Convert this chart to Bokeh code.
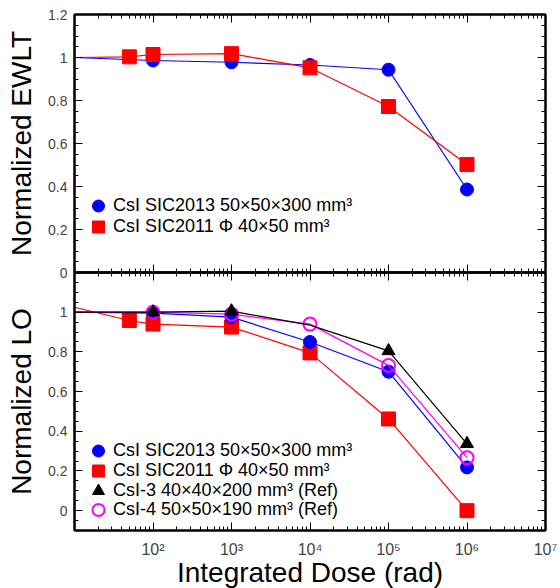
from bokeh.plotting import figure
from bokeh.layouts import column
from bokeh.models import (Range1d, FixedTicker, LinearAxis, LogAxis,
                          CustomJSTickFormatter, Legend, LegendItem, ColumnDataSource)
from bokeh.embed import file_html
from bokeh.resources import INLINE

# ---------------- data ----------------
# first entry of each series is the un-irradiated reference at the left edge (no marker)
ewlt_2013_dose = [10, 1e2, 1e3, 1e4, 1e5, 1e6]
ewlt_2013 = [1.0, 0.986, 0.978, 0.965, 0.943, 0.386]
ewlt_2013_mark = [False, True, True, True, True, True]

ewlt_2011_dose = [10, 50, 1e2, 1e3, 1e4, 1e5, 1e6]
ewlt_2011 = [1.0, 1.003, 1.014, 1.018, 0.952, 0.772, 0.502]
ewlt_2011_mark = [False, True, True, True, True, True, True]

lo_2013_dose = [10, 1e2, 1e3, 1e4, 1e5, 1e6]
lo_2013 = [1.0, 0.995, 0.975, 0.85, 0.70, 0.218]
lo_2013_mark = [False, True, True, True, True, True]

lo_2011_dose = [10, 50, 1e2, 1e3, 1e4, 1e5, 1e6]
lo_2011 = [1.025, 0.958, 0.94, 0.925, 0.795, 0.462, 0.0]
lo_2011_mark = [False, True, True, True, True, True, True]

lo_csi3_dose = [10, 1e2, 1e3, 1e4, 1e5, 1e6]
lo_csi3 = [1.0, 1.0, 1.005, 0.935, 0.805, 0.337]
lo_csi3_mark = [False, True, True, False, True, True]

lo_csi4_dose = [10, 1e2, 1e3, 1e4, 1e5, 1e6]
lo_csi4 = [1.0, 1.0, 0.99, 0.94, 0.732, 0.267]
lo_csi4_mark = [False, True, True, True, True, True]

label_2013 = "CsI SIC2013 50\u00d750\u00d7300 mm\u00b3"
label_2011 = "CsI SIC2011 \u03a6 40\u00d750 mm\u00b3"
label_csi3 = "CsI-3 40\u00d740\u00d7200 mm\u00b3 (Ref)"
label_csi4 = "CsI-4 50\u00d750\u00d7190 mm\u00b3 (Ref)"

x_label = "Integrated Dose (rad)"
y_label_top = "Normalized EWLT"
y_label_bottom = "Normalized LO"

x_major = [1e2, 1e3, 1e4, 1e5, 1e6, 1e7]
x_minor = [k * 10 ** n for n in range(1, 7) for k in range(2, 10)]
y_major_top = [0, 0.2, 0.4, 0.6, 0.8, 1.0, 1.2]
y_minor_top = [i * 0.05 for i in range(0, 25)]
y_major_bottom = [0, 0.2, 0.4, 0.6, 0.8, 1.0]
y_minor_bottom = [i * 0.05 for i in range(-2, 25)]

FONT = "Liberation Sans"
BLUE = "#0000ff"
RED = "#ff0000"
BLACK = "#000000"
MAGENTA = "#ff00ff"

x_fmt = CustomJSTickFormatter(code="""
const s = {1:'\u00b9', 2:'\u00b2', 3:'\u00b3', 4:'\u2074', 5:'\u2075', 6:'\u2076', 7:'\u2077'};
return '10' + s[Math.round(Math.log10(tick))];
""")
y_fmt = CustomJSTickFormatter(code="return String(Math.round(tick * 10) / 10);")


def style_axis(ax, show_labels, font_size):
    ax.axis_line_color = "black"
    ax.axis_line_width = 2
    ax.major_tick_in = 8
    ax.major_tick_out = 0
    ax.minor_tick_in = 4
    ax.minor_tick_out = 0
    ax.major_tick_line_color = "black"
    ax.minor_tick_line_color = "black"
    ax.major_label_text_font = FONT
    ax.major_label_text_color = "#444444"
    ax.axis_label_text_font = FONT
    ax.axis_label_text_font_style = "normal"
    ax.axis_label_text_color = "black"
    ax.axis_label_text_font_size = "28px"
    if show_labels:
        ax.major_label_text_font_size = font_size
    else:
        ax.major_label_text_font_size = "1px"
        ax.major_label_text_alpha = 0
        ax.major_label_standoff = 0


def make_fig(ymin, ymax, ymajor, yminor, ylabel, top_b, bottom_b, show_x, **kw):
    p = figure(x_axis_type="log", x_range=Range1d(10, 1e7),
               y_range=Range1d(ymin, ymax), frame_width=471, frame_height=258,
               min_border_left=74, min_border_right=15,
               min_border_top=top_b, min_border_bottom=bottom_b,
               output_backend="svg", toolbar_location=None, **kw)
    p.grid.visible = False
    p.outline_line_color = "black"
    p.outline_line_width = 2

    xt = FixedTicker(ticks=x_major, minor_ticks=x_minor)
    yt = FixedTicker(ticks=ymajor, minor_ticks=yminor)

    xa = p.xaxis[0]
    xa.ticker = xt
    xa.formatter = x_fmt
    style_axis(xa, show_x, "16px")
    if show_x:
        xa.axis_label = x_label
        xa.major_label_standoff = 10
        xa.axis_label_standoff = -4

    ya = p.yaxis[0]
    ya.ticker = yt
    ya.formatter = y_fmt
    style_axis(ya, True, "14px")
    ya.axis_label = ylabel
    ya.major_label_standoff = 7
    ya.axis_label_standoff = 8

    ra = LinearAxis(ticker=yt)
    style_axis(ra, False, "1px")
    p.add_layout(ra, "right")
    ta = LogAxis(ticker=xt)
    style_axis(ta, False, "1px")
    p.add_layout(ta, "above")
    return p


def add_series(p, dose, vals, marks, color, marker, size, fill=True, lw=1.2):
    p.line(dose, vals, line_color=color, line_width=lw)
    src = ColumnDataSource(dict(x=[d for d, m in zip(dose, marks) if m],
                                y=[v for v, m in zip(vals, marks) if m]))
    if fill:
        r = p.scatter("x", "y", source=src, marker=marker, size=size,
                      fill_color=color, line_color=color, line_width=1)
    else:
        r = p.scatter("x", "y", source=src, marker=marker, size=size,
                      fill_color=None, line_color=color, line_width=2)
    return r


def add_legend_row(p, label, renderer, loc):
    lg = Legend(items=[LegendItem(label=label, renderers=[renderer])],
                location=loc, glyph_width=30, glyph_height=33,
                label_standoff=0, padding=0, margin=0,
                border_line_color=None, background_fill_alpha=0,
                label_text_font=FONT, label_text_font_size="18px",
                label_text_color="black")
    p.add_layout(lg)


# ---------------- top panel ----------------
top = make_fig(0, 1.2, y_major_top, y_minor_top, y_label_top, 14, 10, False)
top.background_fill_color = "white"
top.border_fill_color = "white"
r_b = add_series(top, ewlt_2013_dose, ewlt_2013, ewlt_2013_mark, BLUE, "circle", 13)
r_r = add_series(top, ewlt_2011_dose, ewlt_2011, ewlt_2011_mark, RED, "square", 14)
add_legend_row(top, label_2013, r_b, (9, 50))
add_legend_row(top, label_2011, r_r, (9, 29))

# ---------------- bottom panel ----------------
bot = make_fig(-0.1, 1.2, y_major_bottom, y_minor_bottom, y_label_bottom, 10, 58, True,
               margin=(-20, 0, 0, 0))
bot.background_fill_alpha = 0
bot.border_fill_alpha = 0
r_r2 = add_series(bot, lo_2011_dose, lo_2011, lo_2011_mark, RED, "square", 14)
r_b2 = add_series(bot, lo_2013_dose, lo_2013, lo_2013_mark, BLUE, "circle", 13)
r_m2 = add_series(bot, lo_csi4_dose, lo_csi4, lo_csi4_mark, MAGENTA, "circle", 13, fill=False)
r_k2 = add_series(bot, lo_csi3_dose, lo_csi3, lo_csi3_mark, BLACK, "triangle", 13)
add_legend_row(bot, label_2013, r_b2, (9, 63))
add_legend_row(bot, label_2011, r_r2, (9, 43))
add_legend_row(bot, label_csi3, r_k2, (9, 23))
add_legend_row(bot, label_csi4, r_m2, (9, 4))

layout = column(top, bot, spacing=0)
open("out.html", "w").write(file_html(layout, INLINE))
